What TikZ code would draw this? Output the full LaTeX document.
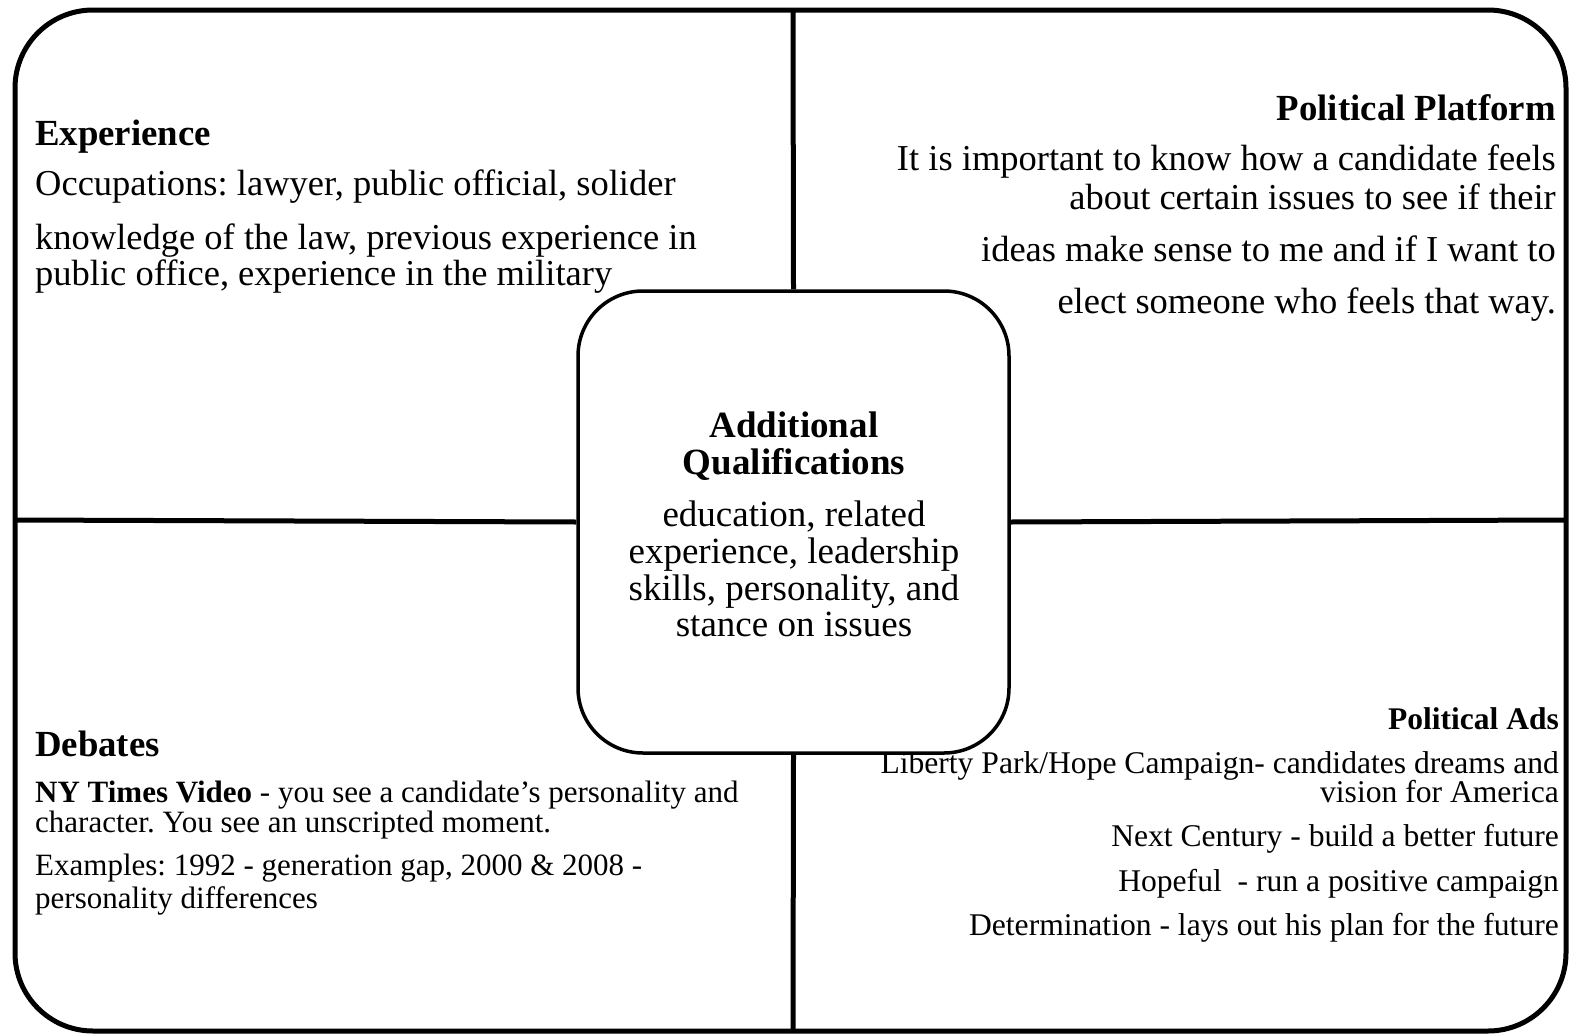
\documentclass[tikz,border=0pt]{standalone}
\usepackage{fontspec}
\setmainfont{Liberation Serif}
\frenchspacing
\begin{document}
\begin{tikzpicture}[x=1pt,y=-1pt,
  frame/.style={line width=5pt,rounded corners=78pt},
  divider/.style={line width=5pt},
  hub/.style={draw,line width=3.5pt,fill=white,rounded corners=65pt,minimum width=431pt,minimum height=462pt,inner sep=0pt},
  txt/.style={inner sep=0pt,font=\fontsize{36.5}{42}\selectfont},
  head/.style={inner sep=0pt,font=\fontsize{36.8}{42}\selectfont\bfseries},
  ctxt/.style={inner sep=0pt,font=\fontsize{37}{42}\selectfont},
  chead/.style={inner sep=0pt,font=\fontsize{37}{42}\selectfont\bfseries},
  stxt/.style={inner sep=0pt,font=\fontsize{31}{36}\selectfont},
  rtxt/.style={inner sep=0pt,font=\fontsize{31.6}{36}\selectfont},
  shead/.style={inner sep=0pt,font=\fontsize{31.5}{36}\selectfont\bfseries}]
\useasboundingbox (0,0) rectangle (1572,1036);
\fill[white] (0,0) rectangle (1572,1036);
\draw[frame] (15,10) rectangle (1566,1031);
\coordinate (T) at (793,10);
\coordinate (B) at (793,1031);
\coordinate (L) at (15,520);
\coordinate (R) at (1566,520);

% top-left
\node[head,anchor=base west] (exph) at (35,145) {Experience};
\node[txt,anchor=base west] (exp1) at (35,195) {Occupations: lawyer, public official, solider};
\node[txt,anchor=base west] (exp2) at (35,249) {knowledge of the law, previous experience in};
\node[txt,anchor=base west] (exp3) at (35,285) {public office, experience in the military};

% top-right
\node[head,anchor=base east] (pph) at (1556,120) {Political Platform};
\node[txt,anchor=base east] (pp1) at (1556,170) {It is important to know how a candidate feels};
\node[txt,anchor=base east] (pp2) at (1556,209) {about certain issues to see if their};
\node[txt,anchor=base east] (pp3) at (1556,261) {ideas make sense to me and if I want to};
\node[txt,anchor=base east] (pp4) at (1556,313) {elect someone who feels that way.};

% bottom-left
\node[head,anchor=base west] (debh) at (35,756) {Debates};
\node[stxt,anchor=base west] (deb1) at (35,802) {\textbf{NY Times Video} - you see a candidate's personality and};
\node[stxt,anchor=base west] (deb2) at (35,832) {character. You see an unscripted moment.};
\node[stxt,anchor=base west] (deb3) at (35,875) {Examples: 1992 - generation gap, 2000 \& 2008 -};
\node[stxt,anchor=base west] (deb4) at (35,908) {personality differences};

% bottom-right
\node[shead,anchor=base east] (adh) at (1559,729) {Political Ads};
\node[rtxt,anchor=base east] (ad1) at (1559,773) {Liberty Park/Hope Campaign- candidates dreams and};
\node[rtxt,anchor=base east] (ad2) at (1559,802) {vision for America};
\node[rtxt,anchor=base east] (ad3) at (1559,846) {Next Century - build a better future};
\node[rtxt,anchor=base east] (ad4) at (1559,891) {Hopeful\ \ - run a positive campaign};
\node[rtxt,anchor=base east] (ad5) at (1559,935) {Determination - lays out his plan for the future};

% center hub
\node[hub] (hub) at (793.5,522) {};
\draw[divider] (T) -- (hub.north);
\draw[divider] (hub.south) -- (B);
\draw[divider] (L) -- (hub.west);
\draw[divider] (hub.east) -- (R);
\node[chead,anchor=base] (c1) at (794,437) {Additional};
\node[chead,anchor=base] (c2) at (794,474) {Qualifications};
\node[ctxt,anchor=base] (c3) at (794,526) {education, related};
\node[ctxt,anchor=base] (c4) at (794,563) {experience, leadership};
\node[ctxt,anchor=base] (c5) at (794,600) {skills, personality, and};
\node[ctxt,anchor=base] (c6) at (794,636) {stance on issues};
\end{tikzpicture}
\end{document}
